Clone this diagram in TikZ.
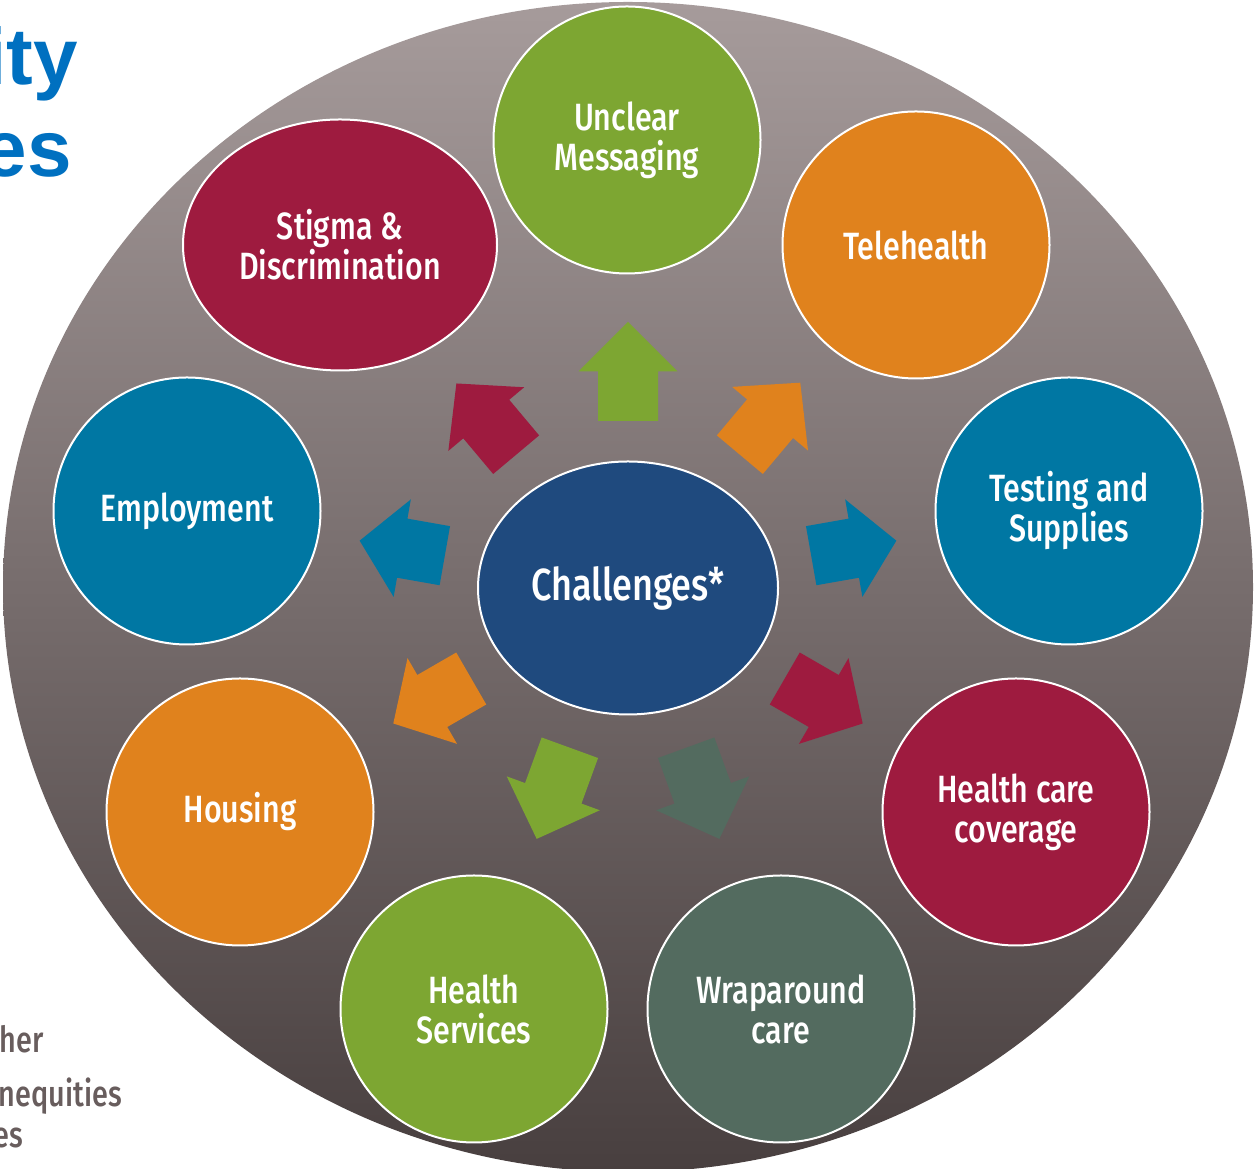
\documentclass[tikz,border=0pt]{standalone}
\usepackage{fontspec}
\setmainfont{Fira Sans}[FakeStretch=0.8, BoldFont={Fira Sans Medium}]
\newfontfamily\titlefont{Liberation Sans}
\usetikzlibrary{shapes.geometric}
\definecolor{bgtop}{RGB}{166,155,155}
\definecolor{bgbot}{RGB}{72,63,63}
\definecolor{cgreen}{RGB}{125,166,50}
\definecolor{corange}{RGB}{224,130,29}
\definecolor{cteal}{RGB}{0,119,163}
\definecolor{ccrim}{RGB}{158,27,63}
\definecolor{csage}{RGB}{83,107,95}
\definecolor{cnavy}{RGB}{31,74,126}
\definecolor{ctitle}{RGB}{0,112,192}
\definecolor{cgraytxt}{RGB}{104,93,93}
\newcommand\lblfont{\fontsize{38}{40}\selectfont\bfseries}
\newcommand\chalfont{\fontsize{45}{48}\selectfont\bfseries}
\begin{document}
\begin{tikzpicture}[x=1pt,y=1pt,
  bubble/.style={circle, draw=white, line width=2pt, minimum size=267pt,
    inner sep=0pt, text=white, font=\lblfont, align=center},
  oval/.style={ellipse, draw=white, line width=2pt, inner sep=0pt,
    text=white, align=center},
  titletxt/.style={anchor=base east, inner sep=0pt, text=ctitle,
    font=\titlefont\bfseries\fontsize{80}{90}\selectfont},
  graytxt/.style={anchor=base east, inner sep=0pt, text=cgraytxt,
    font=\fontsize{36}{38}\selectfont\bfseries}]
\useasboundingbox (0,0) rectangle (1256,1169);
\clip (0,0) rectangle (1256,1169);
% background disc
\shade[top color=bgtop, bottom color=bgbot] (628,582) ellipse [x radius=625, y radius=585];
% side texts (cut by the left edge)
\node[titletxt] (t1) at (78,1084) {ity};
\node[titletxt] (t2) at (72,992) {es};
\node[graytxt] (g1) at (44,116) {her};
\node[graytxt] (g2) at (122,62) {nequities};
\node[graytxt] (g3) at (23,21) {es};
% centre
\node[oval, fill=cnavy, minimum width=300pt, minimum height=253pt, font=\chalfont] (chal) at (628,581) {Challenges*};
% arrows
\foreach \ang/\bs/\len/\col in {90/167/99/cgreen, 50/174/94/corange, 10/186/86.5/cteal,
   -30/181/90/ccrim, -70/170/97/csage, -110/170/97/cgreen, -150/181/90/corange,
   170/186/86.5/cteal, 130/174/93/ccrim}{
  \begin{scope}[shift={(chal.center)}, rotate=\ang]
    \pgfmathsetmacro\hb{\bs+\len/2}
    \pgfmathsetmacro\tp{\bs+\len}
    \fill[\col] (\bs,-30) -- (\hb,-30) -- (\hb,-49.5) -- (\tp,0) -- (\hb,49.5) -- (\hb,30) -- (\bs,30) -- cycle;
  \end{scope}}
% outer bubbles
\node[bubble, fill=cgreen] (msg) at (627,1029) {Unclear\\Messaging};
\node[bubble, fill=corange] (tele) at (916,924) {Telehealth};
\node[bubble, fill=cteal] (test) at (1069,658) {Testing and\\Supplies};
\node[bubble, fill=ccrim] (cov) at (1016,357) {Health care\\coverage};
\node[bubble, fill=csage] (wrap) at (781,160) {Wraparound\\care};
\node[bubble, fill=cgreen] (hsvc) at (474,160) {Health\\Services};
\node[bubble, fill=corange] (house) at (240,357) {Housing};
\node[bubble, fill=cteal] (emp) at (187,658) {Employment};
\node[oval, fill=ccrim, minimum width=314pt, minimum height=251pt, font=\lblfont] (stig) at (340,924) {Stigma \&\\Discrimination};
\end{tikzpicture}
\end{document}
